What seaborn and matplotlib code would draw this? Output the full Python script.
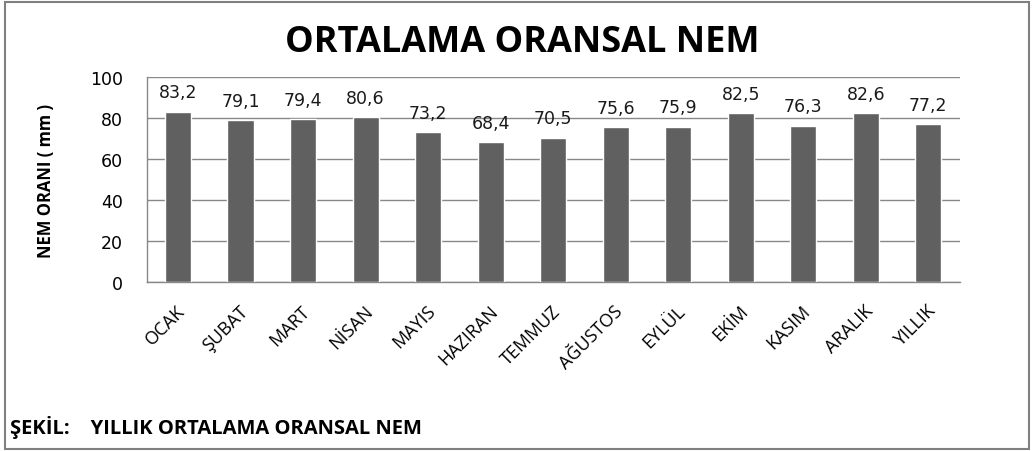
import matplotlib
matplotlib.use('Agg')
import matplotlib.pyplot as plt
import matplotlib.transforms as mtransforms
import seaborn as sns
import pandas as pd
from matplotlib.patches import Rectangle

# Data
months = ['OCAK', 'ŞUBAT', 'MART', 'NİSAN', 'MAYIS', 'HAZIRAN', 'TEMMUZ',
          'AĞUSTOS', 'EYLÜL', 'EKİM', 'KASIM', 'ARALIK', 'YILLIK']
humidity = [83.2, 79.1, 79.4, 80.6, 73.2, 68.4, 70.5, 75.6, 75.9, 82.5, 76.3, 82.6, 77.2]
yticks = [0, 20, 40, 60, 80, 100]

df = pd.DataFrame({'ay': months, 'nem': humidity})

sns.set_style('white')
plt.rcParams['font.family'] = ['Open Sans', 'DejaVu Sans']
plt.rcParams['text.color'] = 'black'
plt.rcParams['axes.labelcolor'] = 'black'
plt.rcParams['xtick.color'] = 'black'
plt.rcParams['ytick.color'] = 'black'

fig = plt.figure(figsize=(10.34, 4.52), dpi=100)
ax = fig.add_axes([0.142, 0.374, 0.786, 0.453])

sns.barplot(data=df, x='ay', y='nem', color='#606060', width=0.42,
            saturation=1, ax=ax, zorder=3)

ax.set_ylim(0, 100)
ax.set_yticks(yticks)
ax.set_yticklabels([str(t) for t in yticks], fontsize=12.5, family='DejaVu Sans')
ax.yaxis.grid(True, color='#888888', linewidth=1, zorder=0)
ax.tick_params(axis='y', length=7, color='#888888', labelcolor='black', pad=10)
ax.tick_params(axis='x', length=0, labelcolor='black', pad=14)
ax.set_xlim(-0.5, len(months) - 0.5)

for s in ['top', 'right']:
    ax.spines[s].set_visible(False)
for s in ['left', 'bottom']:
    ax.spines[s].set_color('#888888')
    ax.spines[s].set_linewidth(1)

ax.set_xticks(range(len(months)))
ax.set_xticklabels(months, rotation=45, ha='right', rotation_mode='anchor',
                   fontsize=13)
shift = mtransforms.ScaledTranslation(-0.02, 0, fig.dpi_scale_trans)
for lbl in ax.get_xticklabels():
    lbl.set_transform(lbl.get_transform() + shift)

ax.set_xlabel('')
ax.set_ylabel('NEM ORANI ( mm )', fontsize=12, fontweight='bold', color='black')
ax.yaxis.set_label_coords(-0.113, 0.5)

# data labels
for i, v in enumerate(humidity):
    ax.text(i, v + 5, f'{v:.1f}'.replace('.', ','), ha='center', va='bottom',
            fontsize=12.5, family='DejaVu Sans', color='#1a1a1a')

fig.text(0.505, 0.905, 'ORTALAMA ORANSAL NEM', ha='center', va='center',
         fontsize=26, fontweight='bold', color='black')
fig.text(0.01, 0.055, 'ŞEKİL:    YILLIK ORTALAMA ORANSAL NEM', ha='left',
         va='center', fontsize=14.5, fontweight='bold', color='black')

fig.patches.append(Rectangle((0.005, 0.004), 0.99, 0.99, transform=fig.transFigure,
                             fill=False, edgecolor='#808080', linewidth=1.5))

plt.savefig('out.png', dpi=100)
